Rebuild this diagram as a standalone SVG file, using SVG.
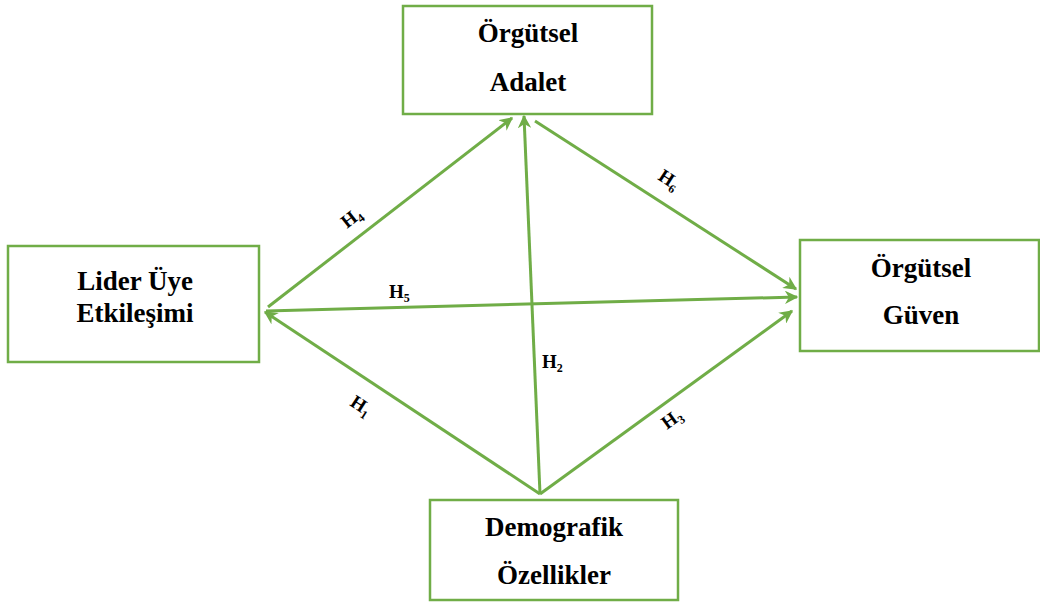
<svg xmlns="http://www.w3.org/2000/svg" width="1040" height="603" viewBox="0 0 1040 603">
<style>
.box{fill:#fff;stroke:#70AD47;stroke-width:2.5}
.t{font-family:'Liberation Serif','Times New Roman',serif;font-weight:700;font-size:27px;fill:#000;text-anchor:middle}
.h{font-family:'Liberation Serif','Times New Roman',serif;font-weight:700;font-size:19px;fill:#000}
.s{font-size:12px}
.c{stroke:#70AD47;stroke-width:3;fill:none;marker-end:url(#ah)}
</style>
<defs>
<marker id="ah" viewBox="0 0 10 10" refX="9" refY="5" markerWidth="4.5" markerHeight="4.5" orient="auto" markerUnits="strokeWidth">
<path d="M0,0 L10,5 L0,10 L3,5 z" fill="#70AD47"/>
</marker>
</defs>
<rect width="1040" height="603" fill="#fff"/>
<g id="connectors">
<line class="c" x1="268" y1="307" x2="512" y2="118"/>
<line class="c" x1="540" y1="494" x2="524" y2="116"/>
<line class="c" x1="535" y1="121" x2="796" y2="289"/>
<line class="c" x1="266" y1="311" x2="797" y2="297"/>
<line class="c" x1="540" y1="494" x2="792" y2="311"/>
<line class="c" x1="540" y1="494" x2="265" y2="312"/>
</g>
<g id="labels">
<text class="h" transform="translate(347,229) rotate(-38)">H<tspan class="s" dy="4">4</tspan></text>
<text class="h" x="389" y="298">H<tspan class="s" dy="4">5</tspan></text>
<text class="h" transform="translate(657,179) rotate(33)">H<tspan class="s" dy="4">6</tspan></text>
<text class="h" transform="translate(349,405) rotate(33)">H<tspan class="s" dy="4">1</tspan></text>
<text class="h" x="542" y="368">H<tspan class="s" dy="4">2</tspan></text>
<text class="h" transform="translate(667,430) rotate(-36)">H<tspan class="s" dy="4">3</tspan></text>
</g>
<g id="adalet">
<rect class="box" x="403" y="6" width="249" height="108"/>
<text class="t" x="528" y="42">Örgütsel</text>
<text class="t" x="528" y="91">Adalet</text>
</g>
<g id="lider">
<rect class="box" x="8" y="246" width="251" height="116"/>
<text class="t" x="135" y="290">Lider Üye</text>
<text class="t" x="135" y="322">Etkileşimi</text>
</g>
<g id="guven">
<rect class="box" x="800" y="240" width="239" height="111"/>
<text class="t" x="921" y="277">Örgütsel</text>
<text class="t" x="921" y="324">Güven</text>
</g>
<g id="demografik">
<rect class="box" x="430" y="500" width="248" height="100"/>
<text class="t" x="554" y="536">Demografik</text>
<text class="t" x="554" y="584">Özellikler</text>
</g>
</svg>
